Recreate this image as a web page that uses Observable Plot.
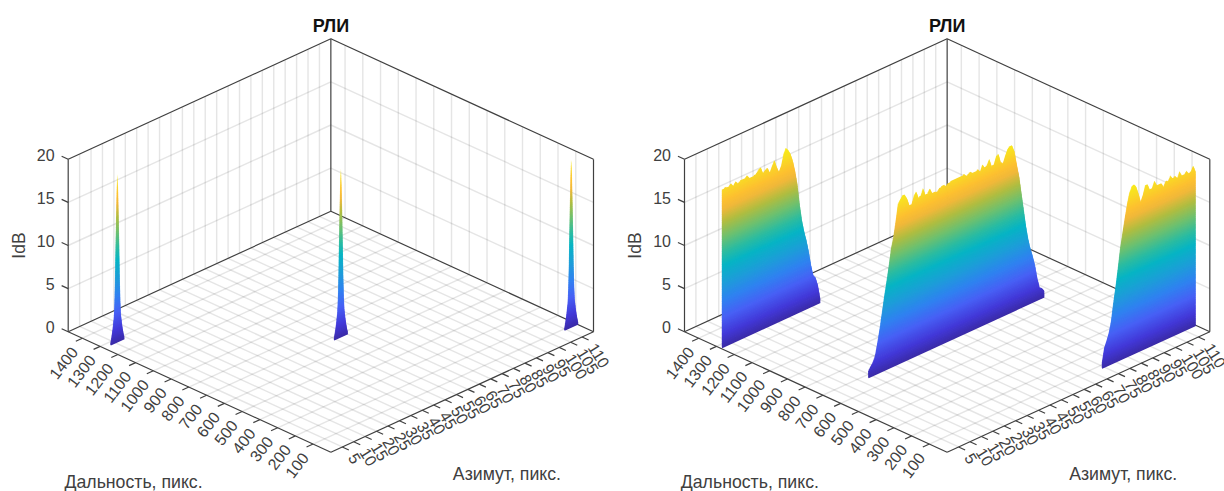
<!DOCTYPE html>
<html>
<head>
<meta charset="utf-8">
<script src="https://cdn.jsdelivr.net/npm/d3@7"></script>
<script src="https://cdn.jsdelivr.net/npm/@observablehq/plot@0.6"></script>
<style>
html,body{margin:0;padding:0;background:#fff;width:1224px;height:491px;overflow:hidden}
#chart{display:flex;width:1224px;height:491px}
</style>
</head>
<body>
<div id="chart"></div>
<script>
// Axis ticks
const dbTicks = [0, 5, 10, 15, 20];
const rangeTicks = [100, 200, 300, 400, 500, 600, 700, 800, 900, 1000, 1100, 1200, 1300, 1400];
const azimuthTicks = [5, 10, 15, 20, 25, 30, 35, 40, 45, 50, 55, 60, 65, 70, 75, 80, 85, 90, 95, 100, 105, 110];
const rangeMax = 1480, azimuthMax = 115, dbMax = 20;

// Texts
const titleText = "РЛИ", dbLabel = "IdB", rangeLabel = "Дальность, пикс.", azimuthLabel = "Азимут, пикс.";

// Left panel: the same narrow peak at three targets, dB read every 0.25 azimuth pixel
const spikeDb = [0.2, 0.5, 0.9, 1.3, 1.8, 2.4, 3, 4.5, 7, 11, 14.5, 17.5, 19.4, 17.5, 14.5, 11, 7, 4.5, 3, 2.4, 1.8, 1.3, 0.9, 0.5, 0.2];
const spikeRanges = [1280, 681, 92];
const spikeStarts = [3, 54.3, 109.4];

// Right panel: three extended targets, top edge in dB read every azimuth pixel
const leftTargetDb = [18.2, 18.3, 18.3, 18.25, 18.5, 18.1, 18.5, 18.15, 18.3, 18.3, 18.3, 18.6, 18.2, 18.1, 18.2, 18.3, 18.6, 18.8, 18.0, 18.25, 18.35, 17.7, 18.35, 18.9, 18.0, 17.3, 17.9, 19.1, 19.7, 19.35, 18.8, 17.9, 16.6, 14.95, 12.5, 10.5, 9.06, 7.9, 6.5, 4.8, 3.5, 3.1, 2.1, 0.5];
const middleTargetDb = [0.7, 1.1, 1.5, 2.15, 3.5, 5.0, 6.75, 8.5, 10.1, 11.8, 13.7, 14.9, 16.6, 18.5, 18.9, 19.3, 19.2, 18.65, 17.75, 17.75, 18.6, 19, 18.15, 18.3, 19, 18.1, 18.2, 18.6, 17.95, 18, 17.8, 18.1, 18.2, 18.3, 18.05, 18.25, 18.3, 18.3, 18.35, 18.35, 18.35, 18.35, 18.45, 18.1, 18.3, 18.3, 18.1, 18.1, 18.3, 17.9, 18.6, 18.1, 18.3, 18.85, 17.9, 18.0, 18.8, 18.95, 17.9, 17.65, 18.4, 19.05, 19.3, 19.2, 18.4, 16.8, 15.35, 13.3, 11.25, 9.2, 7.55, 6.3, 5.3, 4.1, 2.5, 1.3, 1.1, 0.7];
const rightTargetDb = [0.55, 2.15, 2.85, 3.65, 4.9, 6.9, 8.7, 10.7, 12.9, 14.5, 16.1, 17.6, 18.8, 19.4, 19.6, 19.2, 18.3, 17.2, 17.9, 18.9, 18.85, 18.1, 18.2, 18.9, 18.3, 18.2, 18.25, 17.75, 18.3, 18.15, 18.65, 18.2, 18.4, 18, 18.65, 18.05, 18, 18.35, 17.95, 18.05, 18.6, 17.8];
const targetRanges = [1278, 681, 80];
const targetStarts = [0.7, 18.4, 74];

// Colour map
const colorDb = [0, 1.5, 3.5, 5.5, 7.5, 9.5, 11, 12.7, 14.5, 16, 17, 18.8, 20];
const colorHex = ["#3b2ba8", "#4238d8", "#4760f5", "#2f82f0", "#1c9ed8", "#06b4c4", "#2cbca0", "#6cc070", "#b0bd40", "#f0b83a", "#fdc030", "#f8e022", "#f9f012"];

// Oblique view: floor diamond and wall height in scene units
const wall = 172.4 / 120.5;
const sx = (r, a) => a / azimuthMax - r / rangeMax;
const sy = (r, a, d) => a / azimuthMax + r / rangeMax + d / dbMax * wall;
const seg = (r1, a1, d1, r2, a2, d2, extra) => ({
  x1: sx(r1, a1), y1: sy(r1, a1, d1), x2: sx(r2, a2), y2: sy(r2, a2, d2), ...extra
});
const linkOf = (data, options) => Plot.link(data, {x1: "x1", y1: "y1", x2: "x2", y2: "y2", ...options});

const tickR = 0.025 * rangeMax, tickA = 0.025 * azimuthMax;

const gridSegs = [
  ...rangeTicks.map(r => seg(r, 0, 0, r, azimuthMax, 0)),
  ...azimuthTicks.map(a => seg(0, a, 0, rangeMax, a, 0)),
  ...azimuthTicks.map(a => seg(rangeMax, a, 0, rangeMax, a, dbMax)),
  ...rangeTicks.map(r => seg(r, azimuthMax, 0, r, azimuthMax, dbMax)),
  ...dbTicks.slice(1, -1).map(d => seg(rangeMax, 0, d, rangeMax, azimuthMax, d)),
  ...dbTicks.slice(1, -1).map(d => seg(0, azimuthMax, d, rangeMax, azimuthMax, d))
];
const boxSegs = [
  seg(rangeMax, 0, 0, 0, 0, 0),
  seg(0, 0, 0, 0, azimuthMax, 0),
  seg(rangeMax, 0, 0, rangeMax, azimuthMax, 0),
  seg(rangeMax, azimuthMax, 0, 0, azimuthMax, 0),
  seg(rangeMax, 0, 0, rangeMax, 0, dbMax),
  seg(rangeMax, azimuthMax, 0, rangeMax, azimuthMax, dbMax),
  seg(0, azimuthMax, 0, 0, azimuthMax, dbMax),
  seg(rangeMax, 0, dbMax, rangeMax, azimuthMax, dbMax),
  seg(rangeMax, azimuthMax, dbMax, 0, azimuthMax, dbMax)
];
const tickSegs = [
  ...dbTicks.map(d => seg(rangeMax, 0, d, rangeMax + tickR, 0, d)),
  ...rangeTicks.map(r => seg(r, 0, 0, r, -tickA, 0)),
  ...azimuthTicks.map(a => seg(0, a, 0, -tickR, a, 0))
];

// Horizontal slices through a target's mesh: where its edge between read samples stays above each dB level
function slices(tops, r, start, step) {
  const out = [];
  const n = tops.length;
  for (const d of d3.range(0, dbMax, 0.1)) {
    let open = tops[0] >= d ? 0 : null;
    for (let i = 0; i + 1 < n; i++) {
      const a = tops[i], b = tops[i + 1];
      if (a >= d && b < d) {
        out.push(seg(r, start + open * step, d, r, start + (i + (a - d) / (a - b)) * step, d, {db: d}));
        open = null;
      } else if (a < d && b >= d) {
        open = i + (d - a) / (b - a);
      }
    }
    if (open !== null) out.push(seg(r, start + open * step, d, r, start + (n - 1) * step, d, {db: d}));
  }
  return out;
}

function panel(width, xLeft, xRight, targets) {
  const ink = "#404040";
  const font = "'Liberation Sans', Arial, sans-serif";
  return Plot.plot({
    width, height: 491,
    marginLeft: 0, marginRight: 0, marginTop: 0, marginBottom: 0,
    style: {overflow: "visible", fontFamily: font, background: "transparent"},
    x: {axis: null, domain: [-1, 1], range: [xLeft, xRight]},
    y: {axis: null, domain: [0, 2 + wall], range: [451.7, 38.3]},
    color: {type: "linear", domain: colorDb, range: colorHex},
    marks: [
      linkOf(gridSegs, {stroke: "#262626", strokeOpacity: 0.12, strokeWidth: 1.4}),
      linkOf(boxSegs, {stroke: ink, strokeWidth: 1.2}),
      linkOf(tickSegs, {stroke: ink, strokeWidth: 1.2}),
      linkOf(targets, {stroke: "db", strokeWidth: 1.6}),
      Plot.text(dbTicks, {
        x: () => sx(rangeMax + tickR, 0), y: d => sy(rangeMax + tickR, 0, d),
        text: d => String(d), textAnchor: "end", dx: -7, dy: -0.5, fontSize: 16, fill: ink
      }),
      Plot.text(rangeTicks, {
        x: r => sx(r, -tickA), y: r => sy(r, -tickA, 0),
        text: r => String(r), textAnchor: "end", rotate: -52.5, dx: -1, dy: 8, fontSize: 16, fill: ink
      }),
      Plot.text(azimuthTicks, {
        x: a => sx(-tickR, a), y: a => sy(-tickR, a, 0),
        text: a => String(a), textAnchor: "start", rotate: 58, dx: 3, dy: 5, fontSize: 16, fill: ink
      }),
      Plot.text([titleText], {
        x: () => sx(rangeMax, azimuthMax), y: () => sy(rangeMax, azimuthMax, dbMax),
        dy: -13, fontSize: 18, fontWeight: "bold", fill: "#111"
      }),
      Plot.text([dbLabel], {
        x: () => sx(rangeMax, 0), y: () => sy(rangeMax, 0, dbMax / 2),
        dx: -49, dy: 0, rotate: -90, fontSize: 17.5, fill: ink
      }),
      Plot.text([rangeLabel], {
        x: () => sx(rangeMax, 0), y: () => sy(rangeMax, 0, 0),
        textAnchor: "start", dx: -3.7, dy: 151, fontSize: 17.7, fill: ink
      }),
      Plot.text([azimuthLabel], {
        x: () => sx(0, 0), y: () => sy(0, 0, 0),
        textAnchor: "start", dx: 122, dy: 22.5, fontSize: 17.7, fill: ink
      })
    ]
  });
}

const spikeSegs = spikeRanges.flatMap((r, i) => slices(spikeDb, r, spikeStarts[i], 0.25));
const targetSegs = [leftTargetDb, middleTargetDb, rightTargetDb]
  .flatMap((tops, i) => slices(tops, targetRanges[i], targetStarts[i], 1));

const chart = document.getElementById("chart");
chart.append(
  panel(612, 67.7, 593, spikeSegs),
  panel(612, 684 - 612, 1209.3 - 612, targetSegs)
);
</script>
</body>
</html>
